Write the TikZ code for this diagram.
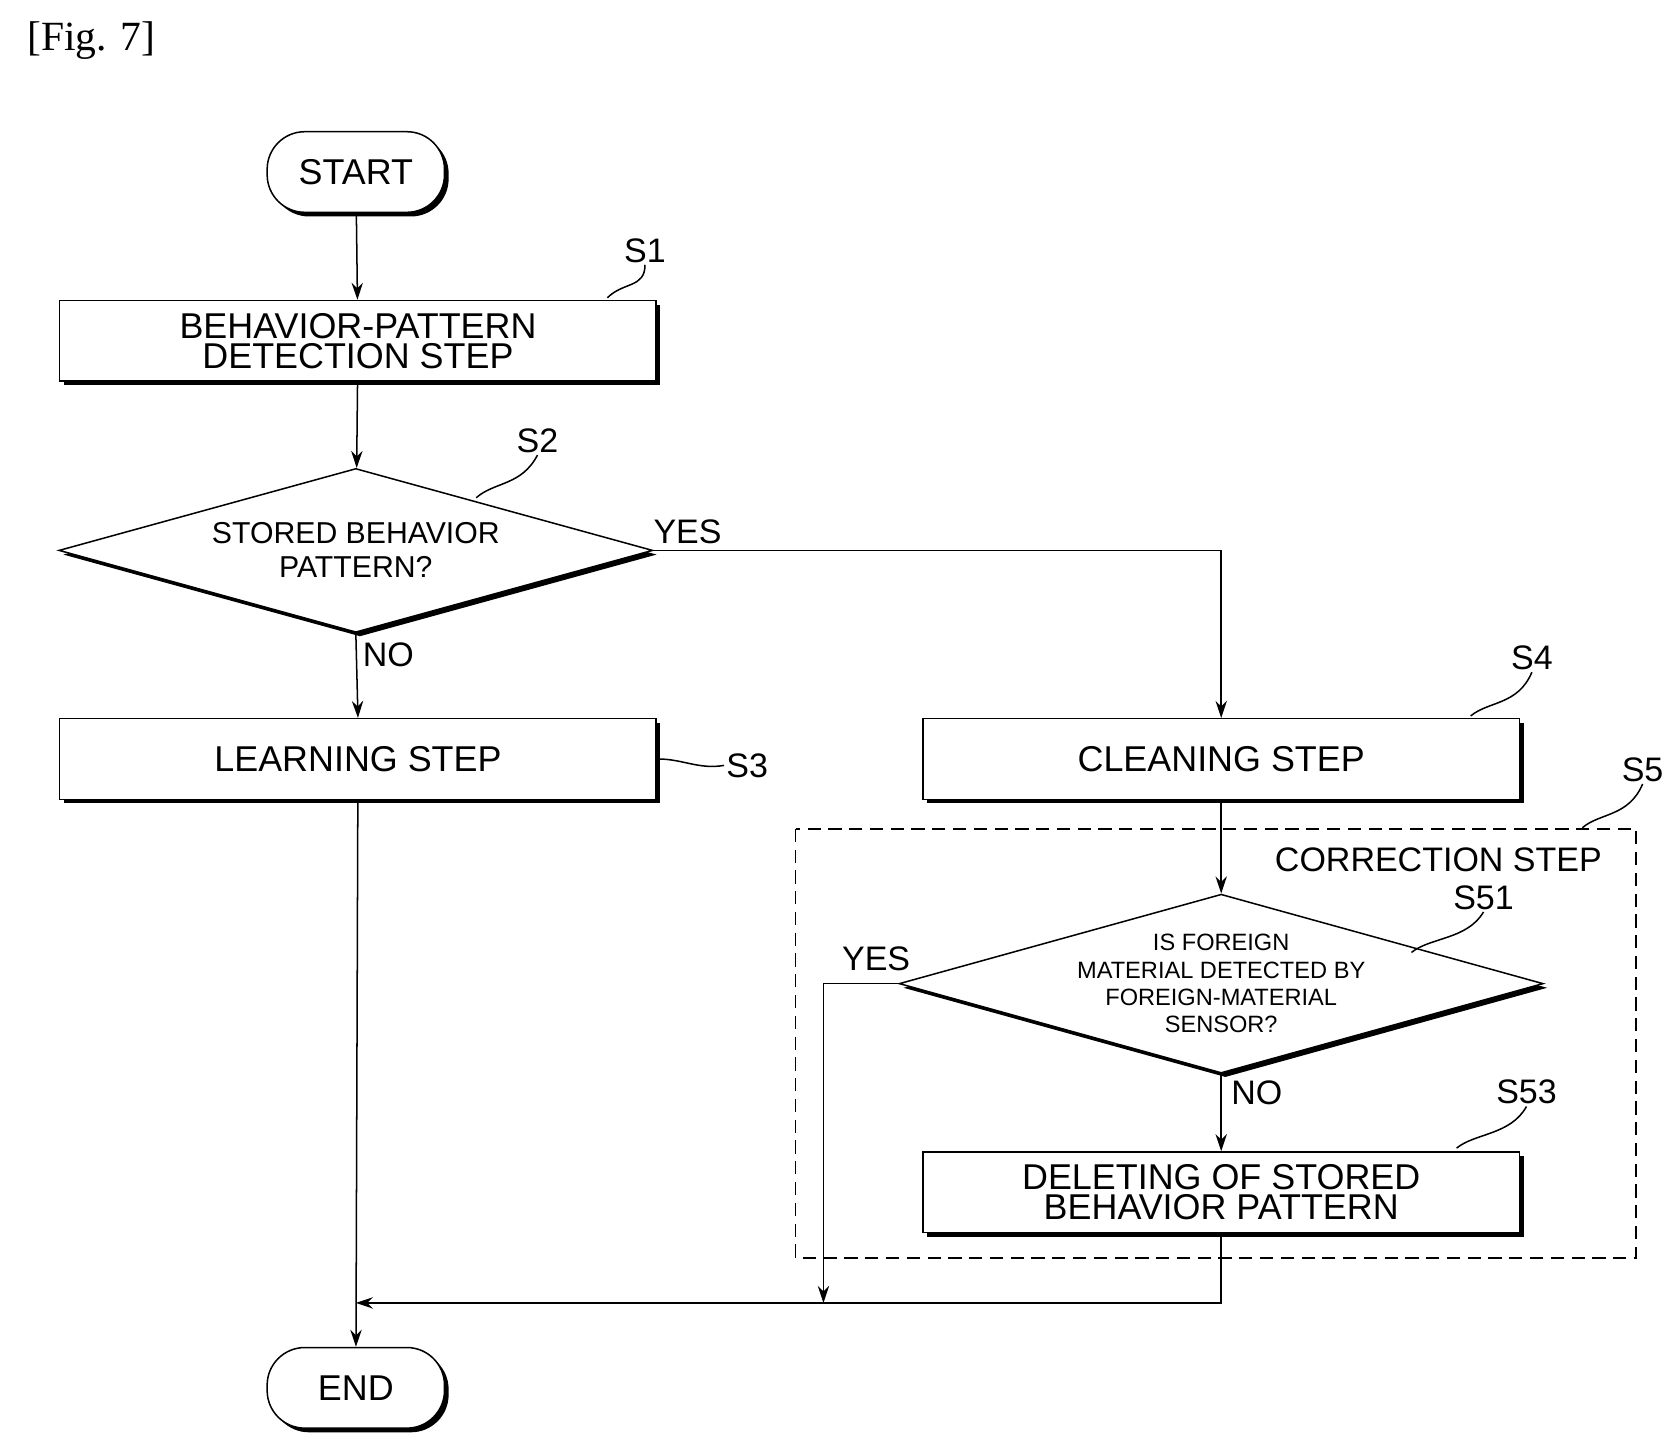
\documentclass[tikz,border=0pt]{standalone}
\usepackage{fontspec}
\setmainfont{Liberation Sans}
\newfontfamily\figfont{Liberation Serif}
\usetikzlibrary{arrows.meta,shapes.geometric,shadows,positioning}

\tikzset{
  shd/.style = {drop shadow={shadow xshift=2.2pt, shadow yshift=-2.2pt, fill=black, opacity=1}},
  stepbox/.style = {draw, line width=0.8pt, fill=white, shd, minimum width=11.1cm, minimum height=1.5cm, align=center, font=\fontsize{19}{19}\selectfont, inner sep=0pt},
  term/.style = {draw, line width=0.8pt, fill=white, shd, rounded corners=0.7cm, minimum width=3.3cm, minimum height=1.5cm, font=\fontsize{19}{19}\selectfont},
  dec/.style = {draw, line width=0.8pt, fill=white, shd, diamond, aspect=3.6, inner sep=0pt, minimum width=11.05cm, minimum height=3.05cm, align=center},
  tag/.style = {font=\fontsize{18}{18}\selectfont, inner sep=1pt},
  lbl/.style = {font=\fontsize{18}{18}\selectfont, inner sep=1pt},
  flow/.style = {line width=0.8pt, -{Stealth[length=9pt,width=6pt]}},
  wave/.style = {line width=0.8pt}
}

\begin{document}
\begin{tikzpicture}[x=0.02cm, y=-0.02cm]
\useasboundingbox (0,0) rectangle (1560,1350);

\node (fig) at (85,38) {\figfont\fontsize{22}{22}\selectfont [Fig. 7]};

\node (start) at (331,160) [term] {START};
\node (s1) at (333,317) [stepbox] {BEHAVIOR-PATTERN\\[-3pt]DETECTION STEP};
\node (s2) at (331,512) [dec, font=\fontsize{16}{16}\selectfont] {STORED BEHAVIOR\\[2pt]PATTERN?};
\node (s3) at (333,706) [stepbox] {LEARNING STEP};
\node (s4) at (1136,706) [stepbox] {CLEANING STEP};
\draw [dash pattern=on 7pt off 4pt, line width=0.8pt] (740,771) rectangle (1522,1170);
\node (corr) at (1338,800) [lbl] {CORRECTION STEP};
\node (s51) at (1136,915) [dec, minimum width=11.1cm, font=\fontsize{12.5}{14.5}\selectfont] {IS FOREIGN\\MATERIAL DETECTED BY\\FOREIGN-MATERIAL\\SENSOR?};
\node (s53) at (1136,1109) [stepbox] {DELETING OF STORED\\[-3pt]BEHAVIOR PATTERN};
\node (end) at (331,1291) [term] {END};

% step tags
\node (t1) at (600,233) [tag] {S1};
\node (t2) at (500,410) [tag] {S2};
\node (t3) at (695,712) [tag] {S3};
\node (t4) at (1425,612) [tag] {S4};
\node (t5) at (1528,716) [tag] {S5};
\node (t51) at (1380,835) [tag] {S51};
\node (t53) at (1420,1016) [tag] {S53};
\draw [wave] (565,277) .. controls (580,262) and (600,268) .. (t1.south);
\draw [wave] (443,463) .. controls (460,448) and (485,452) .. (t2.south);
\draw [wave] (612,706) .. controls (635,706) and (650,716) .. (t3.west);
\draw [wave] (1368,666) .. controls (1385,652) and (1412,656) .. (t4.south);
\draw [wave] (1472,770) .. controls (1488,756) and (1515,760) .. (t5.south);
\draw [wave] (1313,886) .. controls (1330,872) and (1365,874) .. (t51.south);
\draw [wave] (1355,1068) .. controls (1372,1054) and (1405,1056) .. (t53.south);

% connectors
\draw [flow] (start) -- (s1);
\draw [flow] (s1) -- (s2);
\draw [flow] (s2.south) -- (s3.north) node [lbl, pos=0.25, right=2pt] {NO};
\draw [flow] (s2.east) -| (s4.north) node [lbl, pos=0.03, above=2pt] {YES};
\draw [flow] (s4) -- (s51);
\draw [flow] (s51.south) -- (s53.north) node [lbl, pos=0.25, right=4pt] {NO};
\coordinate (j1) at (766,1212);
\coordinate (j2) at (331,1212);
\node (yes2) at (815,892) [lbl] {YES};
\draw [flow] (s51.west) -| (j1);
\draw [flow] (s53.south) |- (j2);
\draw [flow] (s3) -- (end);
\end{tikzpicture}
\end{document}
